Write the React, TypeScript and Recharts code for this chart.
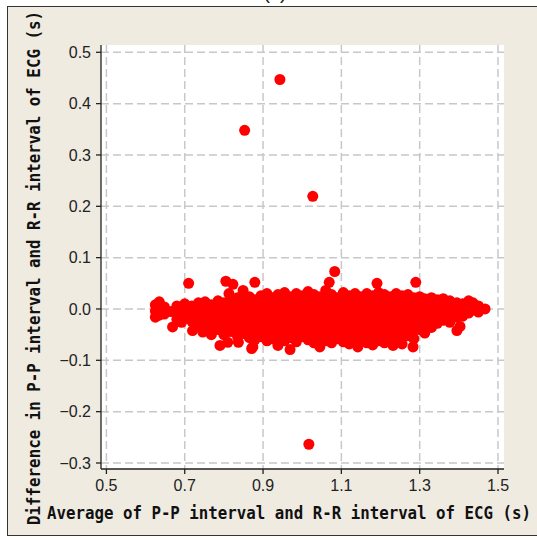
import React from 'react';
import { ScatterChart, Scatter, XAxis, YAxis, CartesianGrid } from 'recharts';

const xTicks = [0.5, 0.7, 0.9, 1.1, 1.3, 1.5];
const yTicks = [-0.3, -0.2, -0.1, 0.0, 0.1, 0.2, 0.3, 0.4, 0.5];

const outlierPoints = [
  { x: 0.943, y: 0.447 },
  { x: 0.853, y: 0.348 },
  { x: 1.027, y: 0.2195 },
  { x: 1.017, y: -0.2635 },
];

const upperFringePoints = [
  { x: 0.71, y: 0.05 }, { x: 0.805, y: 0.054 }, { x: 0.823, y: 0.048 },
  { x: 0.813, y: 0.03 }, { x: 0.849, y: 0.036 }, { x: 0.879, y: 0.052 },
  { x: 1.083, y: 0.073 }, { x: 1.069, y: 0.052 }, { x: 1.06, y: 0.036 },
  { x: 1.191, y: 0.05 }, { x: 1.29, y: 0.052 },
];

const lowerFringePoints = [
  { x: 0.669, y: -0.035 }, { x: 0.692, y: -0.026 }, { x: 0.72, y: -0.042 },
  { x: 0.746, y: -0.045 }, { x: 0.79, y: -0.071 }, { x: 0.81, y: -0.065 },
  { x: 0.837, y: -0.065 }, { x: 0.871, y: -0.077 }, { x: 0.874, y: -0.074 },
  { x: 0.938, y: -0.071 }, { x: 0.969, y: -0.079 }, { x: 1.045, y: -0.074 },
  { x: 1.142, y: -0.074 }, { x: 1.232, y: -0.071 }, { x: 1.283, y: -0.074 },
  { x: 1.313, y: -0.047 }, { x: 1.395, y: -0.042 }, { x: 1.403, y: -0.034 },
  { x: 1.377, y: -0.026 },
];

const bandColumnX = [
  0.625, 0.635, 0.648, 0.665, 0.68, 0.7, 0.718, 0.735, 0.752, 0.768,
  0.785, 0.8, 0.818, 0.835, 0.849, 0.865, 0.879, 0.895, 0.91, 0.925,
  0.938, 0.955, 0.969, 0.985, 1.0, 1.015, 1.03, 1.045, 1.06, 1.075,
  1.09, 1.105, 1.12, 1.135, 1.15, 1.165, 1.18, 1.195, 1.21, 1.225,
  1.24, 1.255, 1.27, 1.285, 1.3, 1.313, 1.33, 1.345, 1.36, 1.377,
  1.395, 1.41, 1.425, 1.436, 1.45, 1.467,
];

const bandColumnY = [
  [0.008, -0.004, -0.016],
  [0.014, 0.0, -0.012],
  [0.004, -0.01],
  [-0.005],
  [0.006, -0.008, -0.02],
  [0.01, -0.004, -0.016],
  [0.006, -0.01, -0.024],
  [0.012, -0.002, -0.018, -0.03],
  [0.014, 0.0, -0.014, -0.028],
  [0.008, -0.006, -0.022, -0.036, -0.05],
  [0.016, 0.002, -0.012, -0.026, -0.04],
  [0.012, -0.004, -0.02, -0.034, -0.05],
  [0.018, 0.004, -0.012, -0.028, -0.044],
  [0.022, 0.008, -0.006, -0.022, -0.038, -0.054],
  [0.016, 0.0, -0.016, -0.032, -0.048],
  [0.024, 0.01, -0.008, -0.024, -0.04, -0.056],
  [0.018, 0.002, -0.014, -0.03, -0.046, -0.06],
  [0.026, 0.01, -0.006, -0.022, -0.038, -0.054],
  [0.03, 0.014, -0.002, -0.018, -0.034, -0.05, -0.062],
  [0.022, 0.006, -0.01, -0.026, -0.042, -0.058],
  [0.028, 0.012, -0.004, -0.02, -0.036, -0.052],
  [0.032, 0.016, 0.0, -0.016, -0.032, -0.048, -0.062],
  [0.024, 0.008, -0.008, -0.024, -0.04, -0.056],
  [0.03, 0.014, -0.002, -0.018, -0.034, -0.05, -0.064],
  [0.026, 0.01, -0.006, -0.022, -0.038, -0.054],
  [0.034, 0.018, 0.002, -0.014, -0.03, -0.046, -0.06],
  [0.028, 0.012, -0.004, -0.02, -0.036, -0.052, -0.066],
  [0.024, 0.008, -0.008, -0.024, -0.04, -0.056],
  [0.016, 0.0, -0.016, -0.032, -0.048, -0.062],
  [0.028, 0.012, -0.004, -0.02, -0.036, -0.052, -0.066],
  [0.022, 0.006, -0.01, -0.026, -0.042, -0.058],
  [0.032, 0.016, 0.0, -0.016, -0.032, -0.048, -0.064],
  [0.026, 0.01, -0.006, -0.022, -0.038, -0.054, -0.068],
  [0.03, 0.014, -0.002, -0.018, -0.034, -0.05, -0.066],
  [0.024, 0.008, -0.008, -0.024, -0.04, -0.056],
  [0.03, 0.014, -0.002, -0.018, -0.034, -0.05, -0.066],
  [0.026, 0.01, -0.006, -0.022, -0.038, -0.054, -0.07],
  [0.032, 0.016, 0.0, -0.016, -0.032, -0.048, -0.062],
  [0.028, 0.012, -0.004, -0.02, -0.036, -0.052, -0.066],
  [0.024, 0.008, -0.008, -0.024, -0.04, -0.056],
  [0.03, 0.014, -0.002, -0.018, -0.034, -0.05, -0.064],
  [0.026, 0.01, -0.006, -0.022, -0.038, -0.054, -0.068],
  [0.028, 0.012, -0.004, -0.02, -0.036, -0.052],
  [0.022, 0.006, -0.01, -0.026, -0.042, -0.058],
  [0.024, 0.008, -0.008, -0.024, -0.04],
  [0.02, 0.004, -0.012, -0.028],
  [0.022, 0.006, -0.01, -0.026, -0.036],
  [0.018, 0.002, -0.014, -0.028],
  [0.02, 0.006, -0.008, -0.022],
  [0.016, 0.002, -0.012],
  [0.012, -0.002, -0.016],
  [0.01, -0.004, -0.014],
  [0.016, 0.004, -0.008],
  [0.012, -0.002],
  [0.006, -0.006],
  [0.0],
];

const bandPoints = bandColumnX.flatMap((x, i) => bandColumnY[i].map((y) => ({ x, y })));

const RED = '#ff0000';
const dot = (props: any) => <circle cx={props.cx} cy={props.cy} r={5.5} fill={RED} />;
const fmt = (v: number) => v.toFixed(1).replace('-', '\u2212');

export default function App() {
  return (
    <div>
      <div
        style={{
          position: 'absolute', left: 7, top: 6, width: 540, height: 530,
          background: '#efebe1', border: '1.5px solid #333', boxSizing: 'border-box',
        }}
      />
      <div style={{ position: 'absolute', left: 0, top: 0 }}>
        <ScatterChart width={537} height={540} margin={{ top: 45, right: 33, left: 41, bottom: 41 }}>
          <CartesianGrid
            xAxisId="b"
            yAxisId="l"
            fill="#ffffff"
            fillOpacity={1}
            stroke="#c8c8c8"
            strokeWidth={1.5}
            strokeDasharray="8 4"
            horizontalValues={yTicks}
            verticalValues={xTicks}
          />
          <XAxis
            xAxisId="b"
            dataKey="x"
            type="number"
            domain={[0.4862, 1.5153]}
            allowDataOverflow
            ticks={xTicks}
            tickFormatter={fmt}
            height={30}
            tickSize={5}
            tickMargin={6}
            stroke="#222"
            strokeWidth={1.3}
            tick={{ fill: '#222', fontSize: 16, fontFamily: 'Liberation Sans, Arial, sans-serif' }}
          />
          <XAxis xAxisId="t" orientation="top" dataKey="x" type="number" domain={[0.4862, 1.5153]}
            allowDataOverflow height={0} tick={false} tickLine={false} stroke="#222" strokeWidth={1.3} />
          <YAxis
            yAxisId="l"
            dataKey="y"
            type="number"
            domain={[-0.3117, 0.5142]}
            allowDataOverflow
            ticks={yTicks}
            tickFormatter={fmt}
            width={60}
            tickSize={5}
            tickMargin={5}
            stroke="#222"
            strokeWidth={1.3}
            tick={{ fill: '#222', fontSize: 16, fontFamily: 'Liberation Sans, Arial, sans-serif' }}
          />
          <YAxis yAxisId="r" orientation="right" dataKey="y" type="number" domain={[-0.3117, 0.5142]}
            allowDataOverflow width={0} tick={false} tickLine={false} stroke="#222" strokeWidth={1.3} />
          <Scatter xAxisId="b" yAxisId="l" data={bandPoints} shape={dot} isAnimationActive={false} />
          <Scatter xAxisId="b" yAxisId="l" data={upperFringePoints} shape={dot} isAnimationActive={false} />
          <Scatter xAxisId="b" yAxisId="l" data={lowerFringePoints} shape={dot} isAnimationActive={false} />
          <Scatter xAxisId="b" yAxisId="l" data={outlierPoints} shape={dot} isAnimationActive={false} />
        </ScatterChart>
      </div>
      <svg
        width={537}
        height={540}
        style={{ position: 'absolute', left: 0, top: 0, pointerEvents: 'none' }}
      >
        <text x={275} y={-1} textAnchor="middle" fontSize={20} fontFamily="Liberation Sans, Arial, sans-serif" fill="#222">(c)</text>
        <text
          x={289}
          y={519}
          textAnchor="middle"
          fontSize={18}
          fontWeight="bold"
          fontFamily="DejaVu Sans Mono, monospace"
          fill="#111"
          textLength={484}
          lengthAdjust="spacingAndGlyphs"
        >
          Average of P-P interval and R-R interval of ECG (s)
        </text>
        <text
          x={0}
          y={0}
          transform="translate(40,268) rotate(-90)"
          textAnchor="middle"
          fontSize={18}
          fontWeight="bold"
          fontFamily="DejaVu Sans Mono, monospace"
          fill="#111"
          textLength={514}
          lengthAdjust="spacingAndGlyphs"
        >
          Difference in P-P interval and R-R interval of ECG (s)
        </text>
      </svg>
    </div>
  );
}
